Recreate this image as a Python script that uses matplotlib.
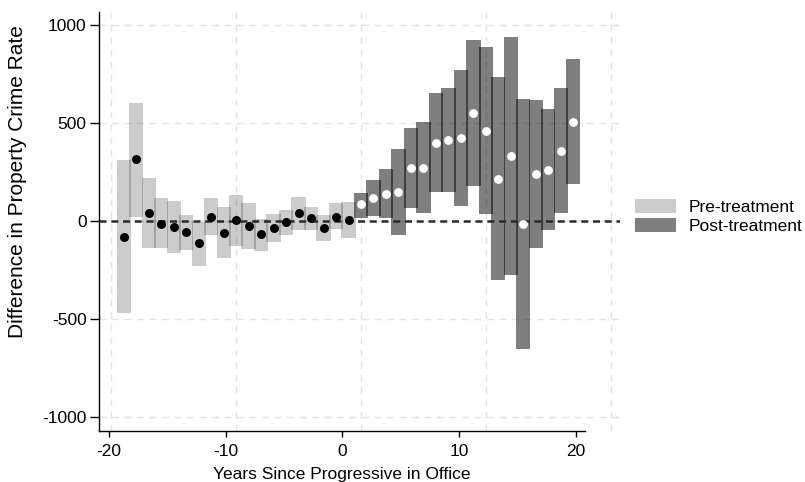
import matplotlib
matplotlib.use("Agg")
import matplotlib.pyplot as plt
import numpy as np

# event time (years since progressive prosecutor took office)
pre_years = [-19, -18, -17, -16, -15, -14, -13, -12, -11, -10,
             -9, -8, -7, -6, -5, -4, -3, -2, -1]
pre_est = [-80, 315, 42, -15, -32, -58, -114, 22, -60, 3,
           -26, -68, -36, -5, 39, 15, -34, 22, 7]
pre_hi = [311, 604, 221, 117, 100, 31, -3, 117, 71, 134,
          90, 9, 36, 58, 124, 73, 31, 90, 95]
pre_lo = [-471, 22, -139, -139, -165, -148, -228, -71, -190, -128,
          -141, -153, -105, -71, -46, -46, -100, -41, -88]

post_years = [0, 1, 2, 3, 4, 5, 6, 7, 8, 9, 10, 11, 12, 13, 14, 15, 16, 17]
post_est = [85, 116, 139, 148, 269, 269, 396, 413, 423, 549,
            461, 214, 333, -15, 240, 260, 359, 507]
post_hi = [141, 209, 265, 367, 473, 503, 651, 677, 770, 923,
           886, 733, 940, 622, 617, 570, 680, 825]
post_lo = [15, 26, 14, -71, 65, 39, 148, 148, 78, 180,
           34, -301, -276, -653, -139, -46, 39, 189]

x_ticks = [-20, -10, 0, 10, 20]
y_ticks = [-1000, -500, 0, 500, 1000]

plt.rcParams["font.family"] = ["Liberation Sans", "DejaVu Sans"]

W, H = 805, 482
fig = plt.figure(figsize=(W / 100, H / 100), dpi=100)

# main plotting area (data + grid + y axis)
ax = fig.add_axes([99 / W, (H - 431) / H, (620 - 99) / W, (431 - 12) / H])
ax.set_xlim(-20.99, 20.75)
ax.set_ylim(-1071, 1066)

grid_kw = dict(color="#e4e4e4", lw=1, ls=(0, (5, 4)), zorder=0)
for gx in x_ticks:
    ax.axvline(gx, **grid_kw)
for gy in y_ticks:
    ax.axhline(gy, **grid_kw)

pre_h = np.array(pre_hi) - np.array(pre_lo)
post_h = np.array(post_hi) - np.array(post_lo)
b1 = ax.bar(pre_years, pre_h, bottom=pre_lo, width=1.15, color="black",
            alpha=0.2, linewidth=0, zorder=1, label="Pre-treatment")
b2 = ax.bar(post_years, post_h, bottom=post_lo, width=1.15, color="black",
            alpha=0.5, linewidth=0, zorder=1, label="Post-treatment")

ax.axhline(0, color="#2a2a2a", lw=1.8, ls=(0, (2.8, 1.9)), zorder=3)

ax.scatter(pre_years, pre_est, s=42, color="black", linewidths=0, zorder=4)
ax.scatter(post_years, post_est, s=40, color="white", linewidths=0, zorder=4)

ax.set_yticks(y_ticks)
ax.set_yticklabels([str(v) for v in y_ticks])
ax.tick_params(axis="y", length=6.5, width=1, pad=2.5, labelsize=12.5)
ax.set_xticks([])
for s in ["top", "right", "bottom"]:
    ax.spines[s].set_visible(False)
ax.spines["left"].set_linewidth(1)
ax.patch.set_alpha(0)

# separate x axis
ax2 = fig.add_axes([99 / W, (H - 431) / H, (585 - 99) / W, (431 - 12) / H])
ax2.set_xlim(-20.85, 20.80)
ax2.set_xticks(x_ticks)
ax2.set_xticklabels([str(v) for v in x_ticks])
ax2.tick_params(axis="x", length=4.5, width=1, pad=5, labelsize=12.5)
ax2.set_yticks([])
for s in ["top", "right", "left"]:
    ax2.spines[s].set_visible(False)
ax2.spines["bottom"].set_linewidth(1)
ax2.patch.set_alpha(0)

fig.text(18 / W, 1 - 182 / H, "Difference in Property Crime Rate",
         rotation=90, ha="center", va="center", fontsize=15)
fig.text(341.5 / W, 1 - 478.5 / H, "Years Since Progressive in Office",
         ha="center", va="baseline", fontsize=12.5)

fig.legend(handles=[b1, b2], loc="upper left",
           bbox_to_anchor=(635 / W, 1 - 199 / H), frameon=False,
           fontsize=12.5, handlelength=2.36, handleheight=0.86,
           handletextpad=0.75, labelspacing=0.2, borderpad=0,
           borderaxespad=0)

fig.savefig("out.png", dpi=100)
